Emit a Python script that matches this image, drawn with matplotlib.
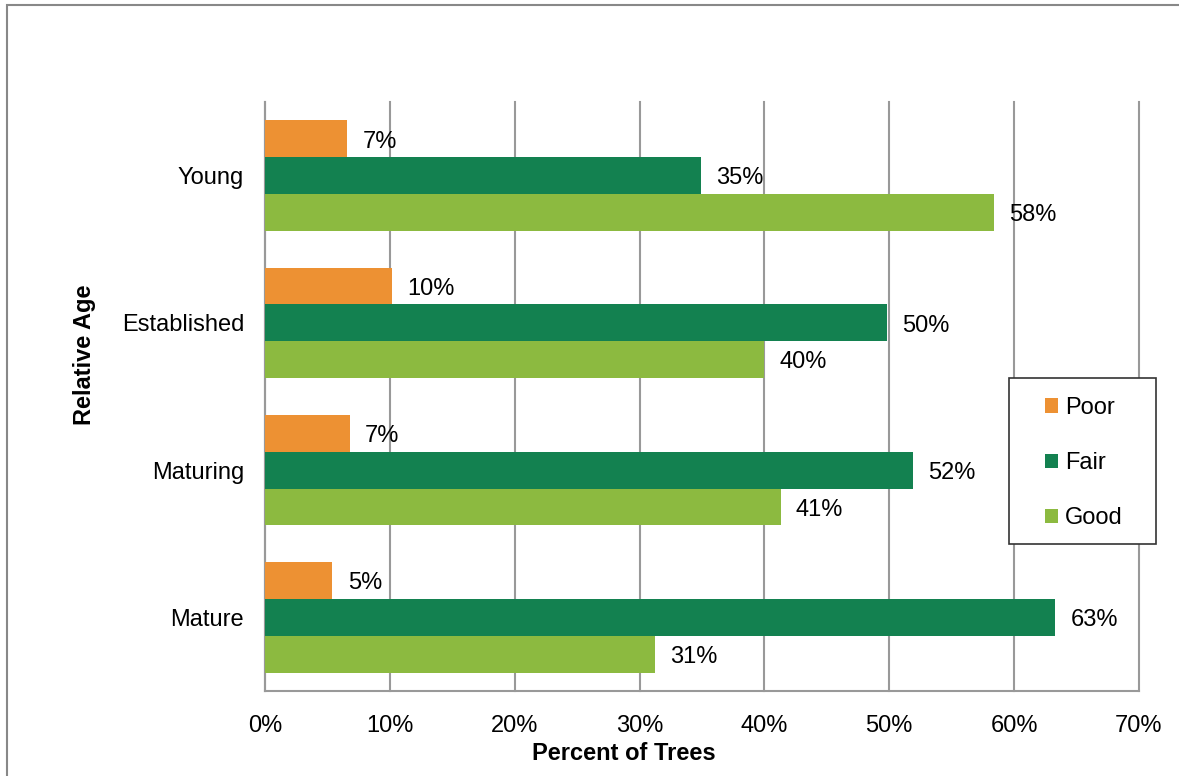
import matplotlib
matplotlib.use("Agg")
import matplotlib.pyplot as plt
import numpy as np
from matplotlib.patches import Rectangle

plt.rcParams['font.family'] = ['Liberation Sans', 'DejaVu Sans']

# tree condition by relative age (percent of trees)
ages = ["Young", "Established", "Maturing", "Mature"]
poor = [6.6, 10.2, 6.8, 5.4]
fair = [34.9, 49.8, 51.9, 63.3]
good = [58.4, 40.0, 41.3, 31.2]
series = ["Poor", "Fair", "Good"]
colors = ["#ED9133", "#138150", "#8CBA40"]

FS = 17
W, H = 1179, 776
fig = plt.figure(figsize=(W / 100, H / 100), dpi=100)
ax = fig.add_axes([265 / W, 1 - 691 / H, (1139 - 265) / W, (691 - 102) / H])

# outer chart frame
fig.patches.append(Rectangle((7 / W, -0.05), 1.1, 1 - 5 / H + 0.05,
                             transform=fig.transFigure, fill=False,
                             edgecolor="#888888", linewidth=1.5))

y = np.arange(len(ages))
h = 0.25
bars = []
for i, (vals, name, c) in enumerate(zip([poor, fair, good], series, colors)):
    b = ax.barh(y + (i - 1) * h, vals, height=h, color=c, label=name, zorder=3)
    bars.append(b)
    for rect, v in zip(b, vals):
        ax.annotate(f"{v:.0f}%", (rect.get_width(), rect.get_y() + rect.get_height() / 2),
                    xytext=(11, -2), textcoords="offset points", ha="left", va="center",
                    fontsize=FS, zorder=4)

ax.set_xlim(0, 70)
ax.set_ylim(3.5, -0.5)
ax.set_xticks(np.arange(0, 71, 10))
ax.set_xticklabels([f"{t}%" for t in range(0, 71, 10)])
ax.set_yticks(y)
ax.set_yticklabels(ages)
ax.tick_params(axis="both", length=0, labelsize=FS)
ax.tick_params(axis="x", pad=17)
ax.tick_params(axis="y", pad=15)
ax.grid(axis="x", color="#999999", linewidth=1.5, zorder=0)
for gl in ax.get_xgridlines():
    gl.set_clip_on(False)
for s in ["top", "right"]:
    ax.spines[s].set_visible(False)
for s in ["left", "bottom"]:
    ax.spines[s].set_color("#999999")
    ax.spines[s].set_linewidth(1.5)

fig.text(624 / W, 1 - 754 / H, "Percent of Trees", ha="center", va="center",
         fontsize=FS, fontweight="bold")
fig.text(84 / W, 1 - 355 / H, "Relative Age", ha="center", va="center",
         rotation=90, fontsize=FS, fontweight="bold")

# legend box drawn separately so its padding can differ per side
fig.patches.append(Rectangle((1009 / W, 1 - 544 / H), 147 / W, 166 / H,
                             transform=fig.transFigure, facecolor="white",
                             edgecolor="#333333", linewidth=1.2, zorder=5))
leg = fig.legend(handles=bars, labels=series, loc="center",
                 bbox_to_anchor=(1084 / W, 1 - 463 / H), fontsize=FS,
                 handlelength=0.55, handleheight=0.55, handletextpad=0.3,
                 labelspacing=1.4, borderpad=0, borderaxespad=0,
                 frameon=False)
leg.set_zorder(6)

fig.savefig("out.png", dpi=100)
